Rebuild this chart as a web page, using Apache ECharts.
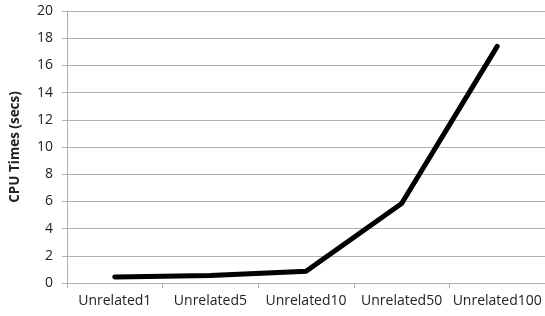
<!DOCTYPE html>
<html><head><meta charset="utf-8">
<script src="https://cdn.jsdelivr.net/npm/echarts@6/dist/echarts.min.js"></script>
<style>html,body{margin:0;padding:0;background:#fff}#c{width:545px;height:316px}</style>
</head><body><div id="c"></div>
<script>
const categories = ['Unrelated1','Unrelated5','Unrelated10','Unrelated50','Unrelated100'];
const cpuTimes = [0.45, 0.55, 0.86, 5.85, 17.4];
const yTicks = {min:0, max:20, interval:2};
const chart = echarts.init(document.getElementById('c'), null, {renderer:'canvas'});
chart.setOption({
  animation:false,
  grid:{left:67, right:-2, top:11, bottom:33},
  xAxis:{type:'category', data:categories, boundaryGap:true,
    axisLine:{lineStyle:{color:'#b0b0b0', width:1}},
    axisTick:{show:true, length:5, lineStyle:{color:'#b0b0b0'}},
    axisLabel:{color:'#222', fontSize:14, fontFamily:'Open Sans', margin:11, interval:0},
    splitLine:{show:false}},
  yAxis:{type:'value', min:yTicks.min, max:yTicks.max, interval:yTicks.interval,
    name:'CPU Times (secs)', nameLocation:'middle', nameGap:45, nameRotate:90,
    nameTextStyle:{fontWeight:'bold', fontSize:13.5, color:'#222', fontFamily:'Open Sans'},
    axisLine:{show:true, lineStyle:{color:'#b0b0b0'}},
    axisTick:{show:true, length:5, lineStyle:{color:'#b0b0b0'}},
    axisLabel:{color:'#222', fontSize:14, fontFamily:'Open Sans', margin:14},
    splitLine:{lineStyle:{color:'#b0b0b0', width:1}}},
  series:[{type:'line', data:cpuTimes, symbol:'none',
    lineStyle:{color:'#000', width:5, cap:'round', join:'miter'}}]
});
</script></body></html>
